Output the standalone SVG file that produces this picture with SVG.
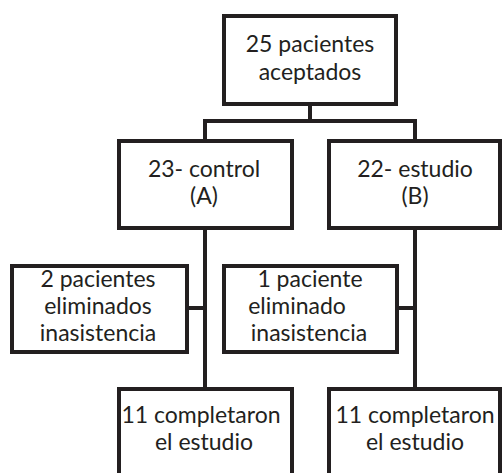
<svg xmlns="http://www.w3.org/2000/svg" width="503" height="473" viewBox="0 0 503 473">
<style>
.box{fill:#fff;stroke:#231f20;stroke-width:4;stroke-linejoin:miter}
.ln{fill:none;stroke:#231f20;stroke-width:4}
text{font-family:Lato,"Liberation Sans",sans-serif;font-size:23px;fill:#231f20;text-anchor:middle}
</style>
<rect width="503" height="473" fill="#fff"/>
<g id="connectors">
<path class="ln" d="M310,105V121M205,121H415M205,119V139M415,119V139"/>
<path class="ln" d="M205,229V387M415,229V387"/>
<path class="ln" d="M188,308H205M398,308H415"/>
</g>
<g id="n-top">
<rect class="box" x="224" y="16" width="172" height="88"/>
<text x="310" y="52">25 pacientes</text>
<text x="310" y="80">aceptados</text>
</g>
<g id="n-control">
<rect class="box" x="119" y="141" width="173" height="87"/>
<text x="204" y="177">23- control</text>
<text x="204" y="204">(A)</text>
</g>
<g id="n-estudio">
<rect class="box" x="329" y="141" width="171" height="87"/>
<text x="415" y="177">22- estudio</text>
<text x="415" y="204">(B)</text>
</g>
<g id="n-elim-a">
<rect class="box" x="12" y="266" width="175" height="86"/>
<text x="98" y="287">2 pacientes</text>
<text x="98" y="314">eliminados</text>
<text x="98" y="341">inasistencia</text>
</g>
<g id="n-elim-b">
<rect class="box" x="224" y="266" width="173" height="86"/>
<text x="310" y="287">1 paciente</text>
<text x="297" y="314">eliminado</text>
<text x="309" y="341">inasistencia</text>
</g>
<g id="n-comp-a">
<rect class="box" x="119" y="389" width="173" height="90"/>
<text x="201" y="423">11 completaron</text>
<text x="204" y="450">el estudio</text>
</g>
<g id="n-comp-b">
<rect class="box" x="329" y="389" width="171" height="90"/>
<text x="415" y="423">11 completaron</text>
<text x="415" y="450">el estudio</text>
</g>
</svg>
